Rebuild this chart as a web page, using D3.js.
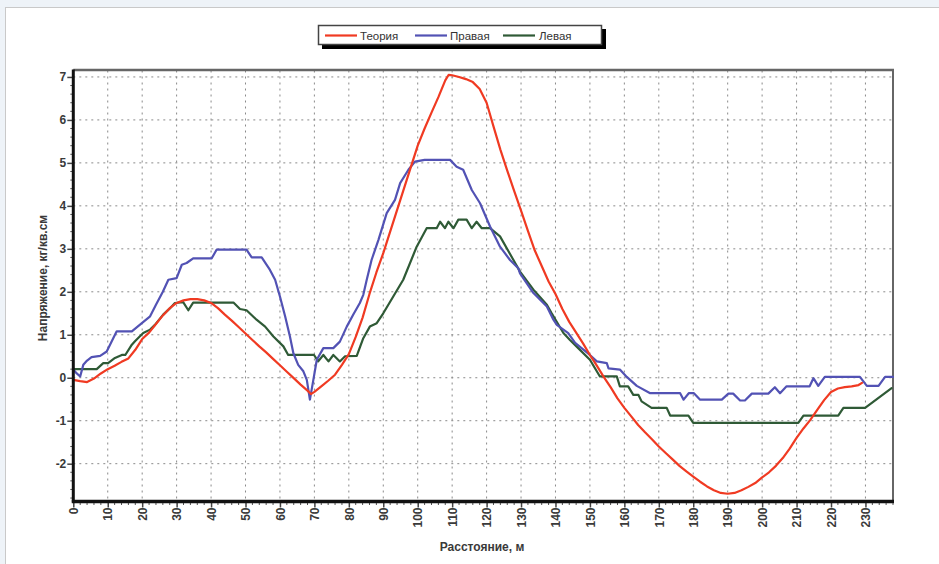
<!DOCTYPE html>
<html><head><meta charset="utf-8">
<script src="https://cdn.jsdelivr.net/npm/d3@7/dist/d3.min.js"></script>
<style>
html,body{margin:0;padding:0;background:#eef3f8;}
svg{display:block;}
text{font-family:Arial,"Liberation Sans",sans-serif;}
</style></head>
<body>
<svg id="chart" width="939" height="564"></svg>
<script>
// ---- data ----
const seriesNames = ["Теория", "Правая", "Левая"];
const xTicks = [0,10,20,30,40,50,60,70,80,90,100,110,120,130,140,150,160,170,180,190,200,210,220,230];
const yTicks = [-2,-1,0,1,2,3,4,5,6,7];
const xTitle = "Расстояние, м";
const yTitle = "Напряжение, кг/кв.см";

const theoryDist = [0,2,4,6,8,10,12,14,16,18,20,22,24,26,28,30,32,34,36,38,40,42,44,46,48,50,52,54,56,58,60,62,64,66,68,69,70,72,74,76,78,80,82,84,86,88,90,92,94,96,98,100,102,104,106,108,109,110,112,114,116,118,120,122,124,126,128,130,132,134,136,138,140,142,144,146,148,150,152,154,156,158,160,162,164,166,168,170,172,174,176,178,180,182,184,186,188,190,192,194,196,198,200,202,204,206,208,210,212,214,216,218,220,222,224,226,228,229];
const theoryVal = [-0.05,-0.08,-0.1,-0.02,0.1,0.2,0.28,0.37,0.45,0.65,0.9,1.05,1.25,1.45,1.62,1.74,1.8,1.83,1.83,1.8,1.74,1.62,1.47,1.33,1.18,1.03,0.88,0.73,0.59,0.44,0.29,0.14,-0.01,-0.16,-0.3,-0.38,-0.33,-0.2,-0.07,0.07,0.3,0.55,0.95,1.4,1.95,2.45,2.9,3.4,3.9,4.4,4.9,5.4,5.8,6.17,6.53,6.92,7.05,7.04,7.0,6.95,6.88,6.72,6.4,5.85,5.31,4.82,4.35,3.89,3.42,2.96,2.6,2.24,1.95,1.6,1.3,1.05,0.8,0.53,0.28,0.02,-0.22,-0.48,-0.7,-0.9,-1.1,-1.27,-1.43,-1.6,-1.75,-1.9,-2.05,-2.18,-2.3,-2.42,-2.53,-2.62,-2.68,-2.7,-2.68,-2.62,-2.54,-2.45,-2.32,-2.2,-2.05,-1.87,-1.65,-1.4,-1.18,-0.98,-0.75,-0.52,-0.33,-0.25,-0.22,-0.2,-0.17,-0.12];

const rightDist = [0,1,2,2.9,4,5.3,7.8,9.7,12.6,17,19.9,22.3,24,26,27.6,30,31.5,32.9,34.8,40.2,41.6,50.3,51.8,54.7,57.1,58.6,60,61.5,62.9,63.9,65.3,66.8,67.8,68.7,69.7,70.7,72.6,73.1,75.5,77.4,79.4,81.3,83.2,84.2,85.2,86.6,88.6,91,93.4,94.9,97.3,99.2,102,106,109.4,111.3,113.2,115.7,118.1,121,123.9,126.8,129.2,129.7,133.6,137.5,139.4,140.4,143.7,145.7,150,152,154.9,155.4,158.7,160.7,163.6,167.5,176.2,177.2,178.7,180.2,182,188.3,190.2,191.6,193.6,195,197,201.8,203.7,205.2,207.1,213.8,214.9,216.3,218.2,228.4,230.4,233.8,235.7,238];
const rightVal = [0.19,0.1,0.03,0.3,0.4,0.48,0.51,0.61,1.08,1.08,1.27,1.43,1.7,2.0,2.28,2.32,2.63,2.67,2.78,2.78,2.98,2.98,2.8,2.8,2.51,2.28,1.89,1.43,0.96,0.57,0.3,0.15,-0.05,-0.51,-0.05,0.42,0.69,0.69,0.69,0.84,1.19,1.47,1.74,1.93,2.28,2.74,3.21,3.83,4.14,4.53,4.84,5.03,5.07,5.07,5.07,4.91,4.84,4.37,4.06,3.52,3.05,2.74,2.55,2.43,1.97,1.66,1.35,1.23,1.04,0.81,0.53,0.38,0.34,0.22,0.19,0.02,-0.19,-0.36,-0.36,-0.51,-0.36,-0.36,-0.51,-0.51,-0.37,-0.37,-0.53,-0.53,-0.37,-0.37,-0.22,-0.36,-0.2,-0.2,-0.01,-0.19,0.02,0.02,-0.19,-0.19,0.02,0.02];

const leftDist = [0,6.8,8.7,10.1,12.1,14.1,15.1,17,17.9,20.3,22.3,23.7,26.1,28.1,29.5,31.9,33.4,34.8,46.5,48.4,50.3,53.2,55.7,58.1,61,62.4,69.9,71.1,72.6,74.1,75.5,77.4,78.9,82.3,84.2,86.1,88.1,90,92.9,95.8,99.7,102.6,105.5,106.5,107.9,108.9,110.4,111.8,114.2,115.7,117.1,118.6,121,123.9,127.8,129.7,133.6,137.5,138.9,142.3,144.2,146.6,150,152.9,157.8,158.7,161.1,162.6,164.1,165,167.9,172.3,173.3,178.6,180,210.5,212,222.1,223.6,229.9,237.6];
const leftVal = [0.2,0.2,0.34,0.34,0.46,0.53,0.53,0.77,0.85,1.04,1.12,1.23,1.47,1.62,1.74,1.76,1.57,1.75,1.75,1.6,1.57,1.35,1.19,0.96,0.73,0.53,0.53,0.38,0.53,0.38,0.53,0.38,0.5,0.51,0.92,1.19,1.27,1.5,1.89,2.28,3.05,3.48,3.48,3.63,3.48,3.63,3.48,3.68,3.68,3.48,3.63,3.48,3.48,3.29,2.74,2.47,2.05,1.7,1.5,1.04,0.88,0.69,0.42,0.03,0.03,-0.2,-0.2,-0.4,-0.4,-0.55,-0.7,-0.7,-0.88,-0.88,-1.05,-1.05,-0.88,-0.88,-0.7,-0.7,-0.24];

const seriesColors = ["#f03a22", "#5252b4", "#2f5a36"];

// ---- drawing ----
const svg = d3.select("#chart");
const L = 73.3, R = 893, T = 70.5, B = 501.5;
const x = d3.scaleLinear().domain([0, 238]).range([L, R]);
const y = d3.scaleLinear().domain([-2.88, 7.15]).range([B, T]);

// outer frame
svg.append("rect").attr("x", 5.5).attr("y", 7.5).attr("width", 945).attr("height", 570)
  .attr("fill", "#fff").attr("stroke", "#c9c9c9").attr("stroke-width", 1);

// grid
const grid = svg.append("g");
grid.selectAll("line.h").data(yTicks).join("line")
  .attr("x1", L).attr("x2", R).attr("y1", d => y(d)).attr("y2", d => y(d))
  .attr("stroke", "#8a8a8a").attr("stroke-width", 1).attr("stroke-dasharray", "2,4");
grid.selectAll("line.v").data(xTicks.filter(d => d > 0)).join("line")
  .attr("y1", T).attr("y2", B).attr("x1", d => x(d)).attr("x2", d => x(d))
  .attr("stroke", "#8a8a8a").attr("stroke-width", 1).attr("stroke-dasharray", "2,4");

// top & right border
svg.append("line").attr("x1", L).attr("x2", R + 1).attr("y1", T - 0.5).attr("y2", T - 0.5)
  .attr("stroke", "#666").attr("stroke-width", 2.5);
svg.append("line").attr("x1", R).attr("x2", R).attr("y1", T - 1).attr("y2", B)
  .attr("stroke", "#666").attr("stroke-width", 2);

// series
const line = d3.line().x(d => x(d[0])).y(d => y(d[1]));
const series = [
  d3.zip(theoryDist, theoryVal),
  d3.zip(rightDist, rightVal),
  d3.zip(leftDist, leftVal)
];
[2, 1, 0].forEach(i => {
  svg.append("path").datum(series[i]).attr("d", line)
    .attr("fill", "none").attr("stroke", seriesColors[i]).attr("stroke-width", 2.2)
    .attr("stroke-linejoin", "round").attr("stroke-linecap", "round");
});

// y axis
const yAxis = d3.axisLeft(y).tickValues(yTicks).tickSize(6).tickFormat(d => d < 0 ? "-" + Math.abs(d) : String(d));
const gy = svg.append("g").attr("transform", `translate(${L},0)`).call(yAxis);
gy.select(".domain").remove();
gy.selectAll(".tick line").attr("stroke", "#444").attr("stroke-width", 1.5);
gy.selectAll(".tick text").attr("font-size", 12).attr("font-weight", "bold").attr("fill", "#3a3a3a").attr("x", -7);
const yMinor = d3.range(-28, 71, 2).map(v => v / 10).filter(v => !yTicks.includes(v));
svg.append("g").selectAll("line").data(yMinor).join("line")
  .attr("x1", L - 3).attr("x2", L).attr("y1", d => y(d)).attr("y2", d => y(d))
  .attr("stroke", "#555").attr("stroke-width", 1);

// x axis
const xAxis = d3.axisBottom(x).tickValues(xTicks).tickSize(6).tickFormat(d3.format("d"));
const gx = svg.append("g").attr("transform", `translate(0,${B})`).call(xAxis);
gx.select(".domain").remove();
gx.selectAll(".tick line").attr("stroke", "#444").attr("stroke-width", 1.5);
gx.selectAll(".tick text")
  .attr("font-size", 12).attr("font-weight", "bold").attr("fill", "#3a3a3a")
  .attr("text-anchor", "end").attr("transform", "rotate(-90)")
  .attr("x", -6).attr("y", 0).attr("dy", "0.35em");
const xMinor = d3.range(0, 239, 2).filter(v => v % 10 !== 0);
svg.append("g").selectAll("line").data(xMinor).join("line")
  .attr("x1", d => x(d)).attr("x2", d => x(d)).attr("y1", B).attr("y2", B + 3.5)
  .attr("stroke", "#555").attr("stroke-width", 1);

// axis lines
svg.append("line").attr("x1", L).attr("x2", L).attr("y1", T - 1).attr("y2", B + 1)
  .attr("stroke", "#111").attr("stroke-width", 3);
svg.append("line").attr("x1", L - 1.5).attr("x2", R + 1).attr("y1", B).attr("y2", B)
  .attr("stroke", "#111").attr("stroke-width", 3.5);

// axis titles
svg.append("text").attr("x", 482).attr("y", 551).attr("text-anchor", "middle")
  .attr("font-size", 12).attr("font-weight", "bold").attr("fill", "#3a3a3a").text(xTitle);
svg.append("text").attr("transform", "translate(47,278) rotate(-90)").attr("text-anchor", "middle")
  .attr("font-size", 12).attr("font-weight", "bold").attr("fill", "#3a3a3a").text(yTitle);

// legend
const lg = svg.append("g");
lg.append("rect").attr("x", 322).attr("y", 29).attr("width", 284).attr("height", 20).attr("fill", "#000");
lg.append("rect").attr("x", 318.5).attr("y", 25.5).attr("width", 283).attr("height", 19)
  .attr("fill", "#fff").attr("stroke", "#444").attr("stroke-width", 1.5);
const legendPos = [[325, 359], [415, 449], [503, 538]];
seriesNames.forEach((n, i) => {
  lg.append("line").attr("x1", legendPos[i][0]).attr("x2", legendPos[i][0] + 32)
    .attr("y1", 35.5).attr("y2", 35.5).attr("stroke", seriesColors[i]).attr("stroke-width", 2.2);
  lg.append("text").attr("x", legendPos[i][1] + 1).attr("y", 39.5).attr("font-size", 11.5)
    .attr("fill", "#333").text(n);
});
</script>
</body></html>
